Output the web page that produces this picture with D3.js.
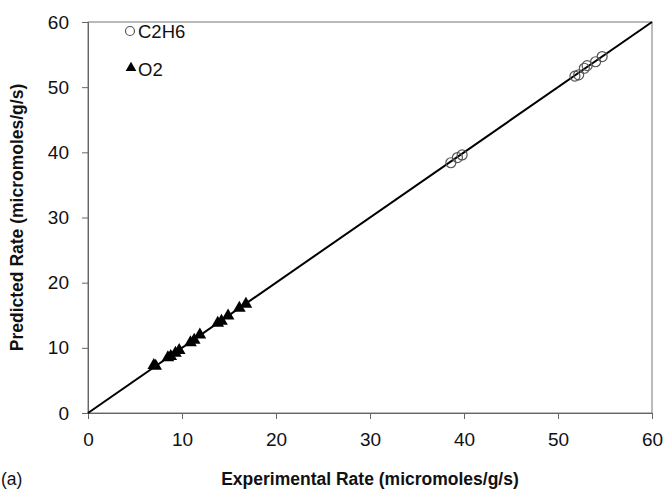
<!DOCTYPE html>
<html>
<head>
<meta charset="utf-8">
<script src="https://cdn.jsdelivr.net/npm/d3@7"></script>
<style>
  body { margin: 0; background: #fff; }
  text { font-family: Arial, "Liberation Sans", sans-serif; fill: #111; }
</style>
</head>
<body>
<div id="chart"></div>
<script>
// Data ////////////////////////////////////////////////////////////////////
const c2h6Experimental = [38.6, 39.3, 39.8, 51.8, 52.2, 52.8, 53.1, 54.0, 54.7];
const c2h6Predicted    = [38.4, 39.2, 39.6, 51.7, 51.9, 52.9, 53.3, 53.9, 54.7];

const o2Experimental = [7.0, 7.2, 8.5, 8.8, 9.3, 9.7, 10.9, 11.3, 11.9, 13.8, 14.2, 14.9, 16.1, 16.8];
const o2Predicted    = [7.3, 7.2, 8.5, 8.7, 9.2, 9.6, 10.8, 11.2, 12.0, 13.8, 14.1, 14.9, 16.1, 16.7];

const xTicks = [0, 10, 20, 30, 40, 50, 60];
const yTicks = [0, 10, 20, 30, 40, 50, 60];

// Chart ///////////////////////////////////////////////////////////////////
const margin = {top: 22, right: 15, bottom: 80, left: 88},
  width = 667 - margin.left - margin.right,
  height = 493 - margin.top - margin.bottom;

const svg = d3.select('#chart').append('svg')
  .attr('width', 667)
  .attr('height', 493);

const g = svg.append('g')
  .attr('transform', `translate(${margin.left},${margin.top})`);

const x = d3.scaleLinear().domain([0, 60]).range([0, width]);
const y = d3.scaleLinear().domain([0, 60]).range([height, 0]);

// plot frame
g.append('rect')
  .attr('width', width)
  .attr('height', height)
  .attr('fill', 'none')
  .attr('stroke', '#777')
  .attr('stroke-width', 1);

// axes
const xAxis = g.append('g')
  .attr('transform', `translate(0,${height})`)
  .call(d3.axisBottom(x).tickValues(xTicks).tickSize(6).tickPadding(14));
const yAxis = g.append('g')
  .call(d3.axisLeft(y).tickValues(yTicks).tickSize(6).tickPadding(13));

[xAxis, yAxis].forEach(ax => {
  ax.select('.domain').attr('stroke', '#666');
  ax.selectAll('.tick line').attr('stroke', '#666');
  ax.selectAll('.tick text')
    .attr('font-size', 19)
    .attr('font-family', 'Arial, "Liberation Sans", sans-serif')
    .attr('fill', '#111');
});

// parity line
g.append('line')
  .attr('x1', x(0)).attr('y1', y(0))
  .attr('x2', x(60)).attr('y2', y(60))
  .attr('stroke', '#000')
  .attr('stroke-width', 2);

// C2H6 points (open circles)
g.selectAll('.c2h6')
  .data(c2h6Experimental.map((d, i) => [d, c2h6Predicted[i]]))
  .enter().append('circle')
  .attr('class', 'c2h6')
  .attr('cx', d => x(d[0]))
  .attr('cy', d => y(d[1]))
  .attr('r', 5)
  .attr('fill', 'none')
  .attr('stroke', '#555')
  .attr('stroke-width', 1.2);

// O2 points (filled triangles)
const tri = d3.symbol().type(d3.symbolTriangle).size(70);
g.selectAll('.o2')
  .data(o2Experimental.map((d, i) => [d, o2Predicted[i]]))
  .enter().append('path')
  .attr('class', 'o2')
  .attr('d', tri)
  .attr('transform', d => `translate(${x(d[0])},${y(d[1])})`)
  .attr('fill', '#000');

// legend
const legend = g.append('g').attr('transform', 'translate(42,9)');
legend.append('circle')
  .attr('cx', 0).attr('cy', 0).attr('r', 4.5)
  .attr('fill', 'none').attr('stroke', '#555').attr('stroke-width', 1.2);
legend.append('text')
  .attr('x', 8).attr('y', 7)
  .attr('font-size', 18.5)
  .text('C2H6');
legend.append('path')
  .attr('d', d3.symbol().type(d3.symbolTriangle).size(50))
  .attr('transform', 'translate(1,37)')
  .attr('fill', '#000');
legend.append('text')
  .attr('x', 8).attr('y', 45)
  .attr('font-size', 18.5)
  .text('O2');

// axis titles
svg.append('text')
  .attr('x', margin.left + width / 2)
  .attr('y', 485)
  .attr('text-anchor', 'middle')
  .attr('font-size', 17.5)
  .attr('font-weight', 'bold')
  .attr('fill', '#222')
  .text('Experimental Rate (micromoles/g/s)');

svg.append('text')
  .attr('transform', `translate(23,${margin.top + height / 2}) rotate(-90)`)
  .attr('text-anchor', 'middle')
  .attr('font-size', 17.5)
  .attr('font-weight', 'bold')
  .attr('fill', '#222')
  .text('Predicted Rate (micromoles/g/s)');

svg.append('text')
  .attr('x', 1)
  .attr('y', 485)
  .attr('font-size', 17.5)
  .text('(a)');
</script>
</body>
</html>
